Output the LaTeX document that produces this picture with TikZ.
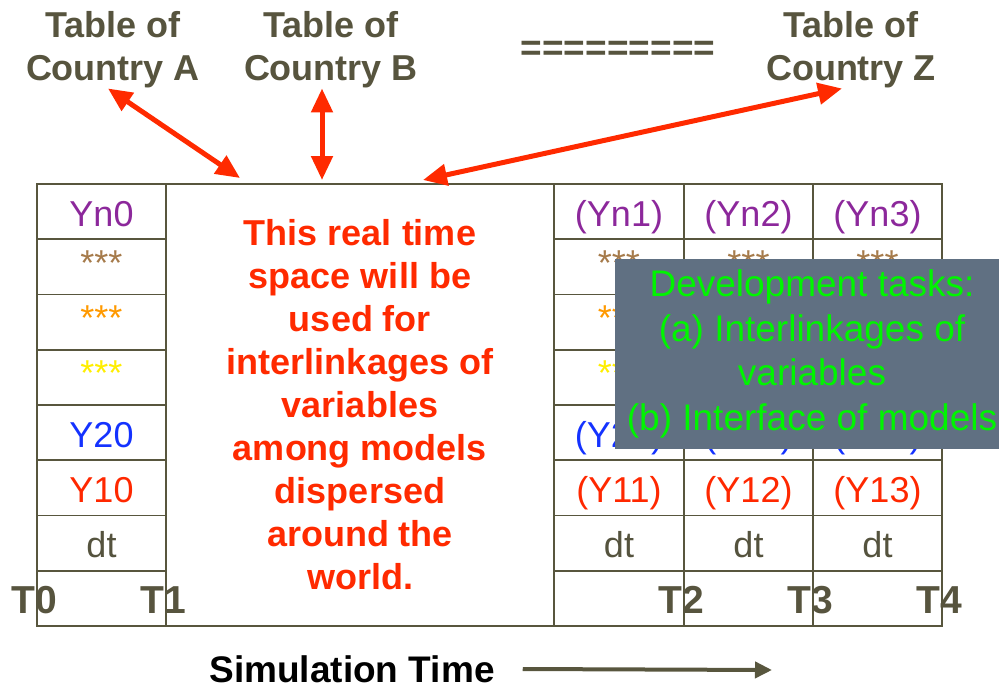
\documentclass[tikz,border=0pt]{standalone}
\usepackage{fontspec}
\setmainfont{Liberation Sans}
\usetikzlibrary{arrows.meta,calc}
\definecolor{olivegray}{RGB}{88,86,62}
\definecolor{headgray}{RGB}{87,84,62}
\definecolor{linkred}{RGB}{255,42,0}
\definecolor{ypurple}{RGB}{140,40,155}
\definecolor{ybrown}{RGB}{166,123,75}
\definecolor{yorange}{RGB}{255,153,0}
\definecolor{yyellow}{RGB}{255,238,0}
\definecolor{yblue}{RGB}{20,50,255}
\definecolor{yred}{RGB}{255,40,0}
\definecolor{dtgray}{RGB}{85,83,62}
\definecolor{taskblue}{RGB}{96,112,130}
\definecolor{taskgreen}{RGB}{0,245,0}
\newcommand{\tabfont}{\fontsize{36}{40}\selectfont}
\newcommand{\headfont}{\fontsize{36}{43}\selectfont\bfseries}
\newcommand{\taskfont}{\fontsize{37}{44.5}\selectfont}
\newcommand{\stars}{\raisebox{6pt}{***}}
\tikzstyle{cell}=[draw=olivegray,line width=1.9pt,minimum width=129.3pt,minimum height=55.25pt,inner sep=0pt,text height=30pt,text depth=1pt,font=\tabfont]
\tikzstyle{space}=[draw=olivegray,line width=1.9pt,minimum width=388pt,minimum height=442pt,inner sep=0pt,align=center,text=linkred,font=\headfont]
\tikzstyle{head}=[text=headgray,font=\headfont,align=center,inner sep=0pt]
\tikzstyle{tick}=[text=headgray,font=\fontsize{39}{39}\selectfont\bfseries,inner sep=0pt,anchor=base east]
\tikzstyle{link}=[draw=linkred,line width=5pt,{Triangle[length=24pt,width=21pt]}-{Triangle[length=24pt,width=21pt]}]
\tikzstyle{timeline}=[draw=olivegray,line width=4pt,-{Triangle[length=17pt,width=16pt]}]
\tikzstyle{taskbox}=[fill=taskblue,text=taskgreen,font=\taskfont,align=center,minimum width=394pt,minimum height=190pt,inner sep=0pt]
\begin{document}
\begin{tikzpicture}[x=1pt,y=-1pt]
    \useasboundingbox (0,0) rectangle (999,686);

    % tables of the countries
    \node[head] (tabA) at (113,50) {Table of\\Country A};
    \node[head] (tabB) at (331,50) {Table of\\Country B};
    \node[head] (tabZ) at (851,50) {Table of\\Country Z};
    \node[head,font=\fontsize{37}{37}\selectfont\bfseries] (dots) at (618,51) {=========};

    % first column T0 -> T1
    \foreach \row/\txt/\col in {1/Yn0/ypurple, 2/\stars/ybrown, 3/\stars/yorange, 4/\stars/yyellow,
                                5/Y20/yblue, 6/Y10/yred, 7/dt/dtgray, 8/{}/dtgray}
        \node[cell,text=\col] (a\row) at (101.5,{184+55.25*(\row-0.5)}) {\txt};

    % real time space T1 -> T2
    \node[space] (space) at (360,405) {This real time\\space will be\\used for\\interlinkages of\\variables\\among models\\dispersed\\around the\\world.};

    % next columns T2 -> T4
    \foreach \c/\x in {1/619, 2/748.5, 3/877.5}
        \foreach \row/\txt/\col in {1/{(Yn\c)}/ypurple, 2/\stars/ybrown, 3/\stars/yorange, 4/\stars/yyellow,
                                    5/{(Y2\c)}/yblue, 6/{(Y1\c)}/yred, 7/dt/dtgray, 8/{}/dtgray}
            \node[cell,text=\col] (b\c\row) at (\x,{184+55.25*(\row-0.5)}) {\txt};

    % time marks
    \foreach \x/\d in {37/0, 166/1, 684/2, 813/3, 942/4}
        \node[tick] (t\d) at ({\x-1},613) {T\rlap{\d}};

    % links to the tables
    \coordinate (inA) at (240,178);
    \coordinate (inB) at (322,180);
    \coordinate (inZ) at (423,180);
    \draw[link] ([xshift=-5pt]tabA.south) -- (inA);
    \draw[link] ([xshift=-9pt]tabB.south) -- (inB);
    \draw[link] ([xshift=-9pt]tabZ.south) -- (inZ);

    % simulation time
    \node[inner sep=0pt,font=\fontsize{37}{37}\selectfont\bfseries] (simtime) at (352,669) {Simulation Time};
    \coordinate (simend) at (772,670);
    \draw[timeline] ([xshift=28pt]simtime.east) -- (simend);

    % development tasks
    \node[taskbox] (tasks) at (812,354) {Development tasks:\\(a) Interlinkages of\\variables\\(b) Interface of models};

\end{tikzpicture}
\end{document}
